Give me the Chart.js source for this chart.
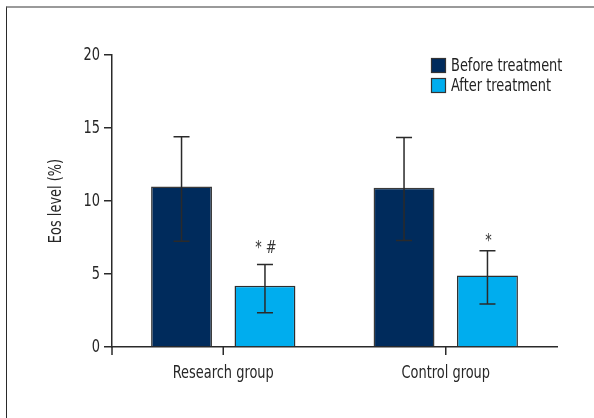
<!DOCTYPE html>
<html>
<head>
<meta charset="utf-8">
<script src="https://cdn.jsdelivr.net/npm/chart.js@4.4.0/dist/chart.umd.min.js"></script>
<style>
  html, body { margin: 0; padding: 0; background: #fff; }
  #wrap { position: relative; width: 594px; height: 418px; overflow: hidden; }
  #frame { position: absolute; left: 6px; top: 6px; width: 620px; height: 440px; border-top: 2px solid #9a9a9a; border-left: 1.5px solid #2a2a2a; }
  canvas { position: absolute; left: 0; top: 0; }
</style>
</head>
<body>
<div id="wrap">
  <div id="frame"></div>
  <canvas id="c" width="594" height="418"></canvas>
</div>
<script>
const FONT = '18px "DejaVu Sans Condensed", "DejaVu Sans", sans-serif';
const SQUEEZE = 0.8; // the reference uses a condensed face

// data
const groups = ['Research group', 'Control group'];
const seriesNames = ['Before treatment', 'After treatment'];
const beforeVals = [11.0, 10.9];
const afterVals = [4.2, 4.9];
const beforeHi = [14.4, 14.35];
const beforeLo = [7.25, 7.3];
const afterHi = [5.65, 6.6];
const afterLo = [2.35, 2.95];
const afterMarks = ['* #', '*'];
const yTicks = [0, 5, 10, 15, 20];
const yTitle = 'Eos level (%)';

const navy = '#002b5c', sky = '#00adee', ink = '#2a2a2a';

function squeezeText(ctx, str, x, y, align, rot) {
  ctx.save();
  ctx.translate(x, y);
  if (rot) ctx.rotate(rot);
  ctx.scale(SQUEEZE, 1);
  ctx.textAlign = align;
  ctx.fillText(str, 0, 0);
  ctx.restore();
}

const errorBars = {
  id: 'errorBars',
  afterDatasetsDraw(chart) {
    const { ctx, scales: { y } } = chart;
    const sets = [[beforeHi, beforeLo], [afterHi, afterLo]];
    ctx.save();
    ctx.strokeStyle = ink; ctx.lineWidth = 1.5;
    sets.forEach(([hi, lo], di) => {
      chart.getDatasetMeta(di).data.forEach((bar, i) => {
        const yh = y.getPixelForValue(hi[i]), yl = y.getPixelForValue(lo[i]);
        ctx.beginPath();
        ctx.moveTo(bar.x, yh); ctx.lineTo(bar.x, yl);
        ctx.moveTo(bar.x - 8, yh); ctx.lineTo(bar.x + 8, yh);
        ctx.moveTo(bar.x - 8, yl); ctx.lineTo(bar.x + 8, yl);
        ctx.stroke();
      });
    });
    // significance marks above the after-treatment bars
    const lift = [12, 5];
    ctx.fillStyle = '#333'; ctx.font = FONT; ctx.textBaseline = 'alphabetic';
    chart.getDatasetMeta(1).data.forEach((bar, i) => {
      squeezeText(ctx, afterMarks[i], bar.x + 1, y.getPixelForValue(afterHi[i]) - lift[i], 'center');
    });
    ctx.restore();
  }
};

const axesAndLegend = {
  id: 'axesAndLegend',
  afterDraw(chart) {
    const { ctx, chartArea: a, scales: { x, y } } = chart;
    ctx.save();
    ctx.strokeStyle = ink; ctx.lineWidth = 1.5;
    // extra tick at the left end of the x axis, plus ticks at group centres
    const xs = [a.left].concat(groups.map((g, i) => x.getPixelForValue(i)));
    ctx.beginPath();
    xs.forEach(px => { ctx.moveTo(px, a.bottom); ctx.lineTo(px, a.bottom + 8); });
    ctx.stroke();

    ctx.fillStyle = '#262626'; ctx.font = FONT;
    // y tick labels
    ctx.textBaseline = 'middle';
    yTicks.forEach(v => squeezeText(ctx, String(v), a.left - 12, y.getPixelForValue(v), 'right'));
    // x category labels
    groups.forEach((g, i) => squeezeText(ctx, g, x.getPixelForValue(i), a.bottom + 26, 'center'));
    // y title
    squeezeText(ctx, yTitle, 56, (a.top + a.bottom) / 2, 'center', -Math.PI / 2);

    // legend
    const colors = [navy, sky];
    seriesNames.forEach((name, i) => {
      const top = 58 + i * 20;
      ctx.fillStyle = colors[i];
      ctx.fillRect(431, top, 15, 15);
      ctx.lineWidth = 1.2; ctx.strokeStyle = '#333';
      ctx.strokeRect(431.5, top + 0.5, 14, 14);
      ctx.fillStyle = '#222';
      squeezeText(ctx, name, 451, top + 8, 'left');
    });
    ctx.restore();
  }
};

new Chart(document.getElementById('c'), {
  type: 'bar',
  data: {
    labels: groups,
    datasets: [
      { label: seriesNames[0], data: beforeVals, backgroundColor: navy, borderColor: '#3a3a3a', borderWidth: 1.5 },
      { label: seriesNames[1], data: afterVals, backgroundColor: sky, borderColor: '#2e2e2e', borderWidth: 1.5 }
    ]
  },
  options: {
    responsive: false,
    animation: false,
    events: [],
    datasets: { bar: { categoryPercentage: 0.75, barPercentage: 0.73 } },
    layout: { padding: { left: 0, right: 37, top: 55, bottom: 0 } },
    plugins: { legend: { display: false }, tooltip: { enabled: false } },
    scales: {
      x: {
        grid: { display: false },
        border: { color: ink, width: 1.5 },
        ticks: { display: false },
        afterFit: s => { s.height = 71; }
      },
      y: {
        min: 0, max: 20,
        afterBuildTicks: s => { s.ticks = yTicks.map(v => ({ value: v })); },
        grid: { drawOnChartArea: false, drawTicks: true, tickLength: 8, color: ink, lineWidth: 1.5 },
        border: { color: ink, width: 1.5 },
        ticks: { display: false },
        afterFit: s => { s.width = 112; }
      }
    }
  },
  plugins: [errorBars, axesAndLegend]
});
</script>
</body>
</html>
